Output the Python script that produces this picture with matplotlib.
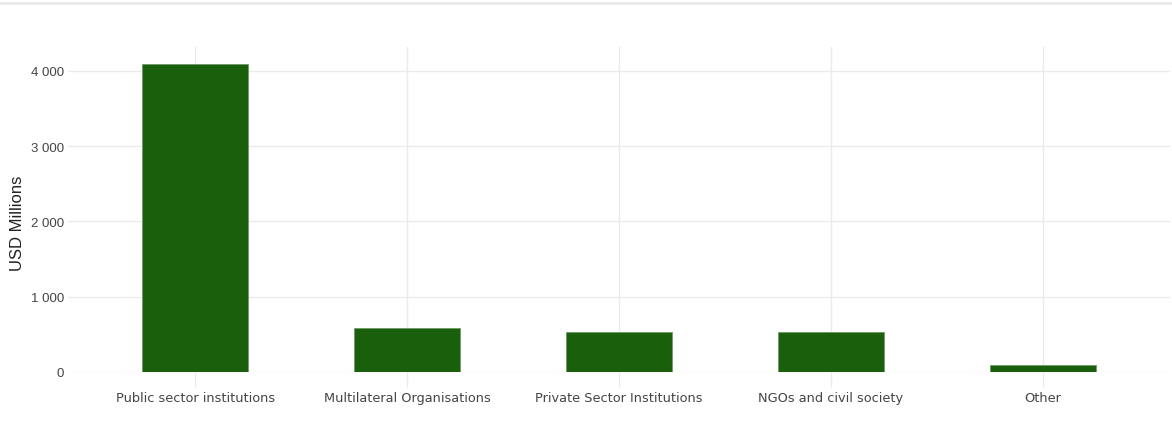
import matplotlib
matplotlib.use("Agg")
import matplotlib.pyplot as plt
from matplotlib.lines import Line2D
from matplotlib.ticker import FuncFormatter

# data
categories = ["Public sector institutions", "Multilateral Organisations",
              "Private Sector Institutions", "NGOs and civil society", "Other"]
values = [4095, 585, 537, 528, 97]
y_ticks = [0, 1000, 2000, 3000, 4000]

bar_color = "#1a600c"
grid_color = "#ebebeb"
text_color = "#444444"

fig = plt.figure(figsize=(11.72, 4.39), dpi=100)
ax = fig.add_axes([68 / 1172, (439 - 373) / 439, 1102 / 1172, 325 / 439])

x = list(range(len(categories)))
ax.bar(x, values, width=0.5, color=bar_color, edgecolor="#6f9a66", linewidth=0.6, zorder=3)

ax.set_xlim(-0.6, 4.6)
ax.set_ylim(0, 4316)
ax.set_xticks(x)
ax.set_xticklabels(categories, fontsize=9.3, color=text_color, family="DejaVu Sans")
ax.set_yticks(y_ticks)
ax.yaxis.set_major_formatter(FuncFormatter(lambda v, p: f"{int(v):,}".replace(",", " ")))
for lab in ax.get_yticklabels():
    lab.set_fontsize(9.5)
    lab.set_color(text_color)
    lab.set_family("Liberation Sans")

ax.grid(True, color=grid_color, lw=1, zorder=0)
ax.tick_params(axis="x", length=11, color=grid_color, width=1, pad=3)
ax.tick_params(axis="y", length=0, pad=3)
for s in ax.spines.values():
    s.set_visible(False)

ax.set_ylabel("USD Millions", fontsize=12, color="#222222", family="Liberation Sans")
ax.yaxis.set_label_coords(-0.039, 0.46)

# thin grey rule across the top of the page
fig.add_artist(Line2D([0, 1], [1 - 3.5 / 439, 1 - 3.5 / 439], color="#e8e8e8", lw=1.8,
                      transform=fig.transFigure))

fig.savefig("out.png", dpi=100, facecolor="white")
